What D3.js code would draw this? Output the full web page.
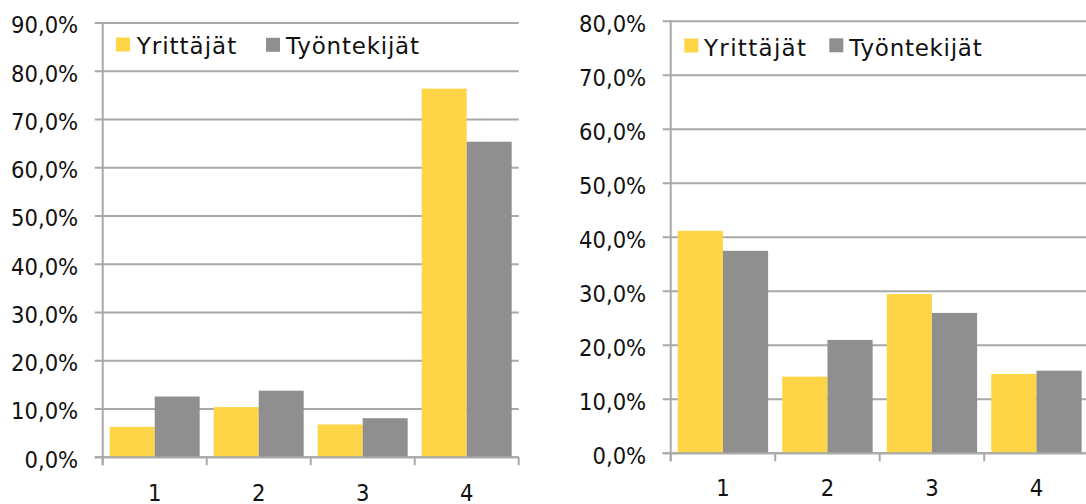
<!DOCTYPE html>
<html>
<head>
<meta charset="utf-8">
<script src="https://cdn.jsdelivr.net/npm/d3@7"></script>
<style>
  html, body { margin: 0; padding: 0; background: #fff; overflow: hidden; }
  svg { display: block; }
  text { fill: #111; }
</style>
</head>
<body>
<div id="chart"></div>
<script>
// Two side-by-side grouped bar charts
const categories = ['1', '2', '3', '4'];
const seriesNames = ['Yrittäjät', 'Työntekijät'];

const leftYrittajat = [6.3, 10.4, 6.8, 76.4];
const leftTyontekijat = [12.6, 13.8, 8.1, 65.4];
const leftTicks = [0, 10, 20, 30, 40, 50, 60, 70, 80, 90];

const rightYrittajat = [41.2, 14.2, 29.5, 14.7];
const rightTyontekijat = [37.5, 21.0, 26.0, 15.3];
const rightTicks = [0, 10, 20, 30, 40, 50, 60, 70, 80];

const COLORS = ['#FDD547', '#8F8F8F'];
const GRID = '#A8A8A8';
const TICK_FONT = '"DejaVu Sans Condensed", "DejaVu Sans", sans-serif';
const LEGEND_FONT = '"DejaVu Sans", sans-serif';

const W = 1086, H = 504;
const svg = d3.select('#chart').append('svg').attr('width', W).attr('height', H);

function drawChart(cfg) {
  const g = svg.append('g');
  const x = d3.scaleBand()
    .domain(categories)
    .range([cfg.x0, cfg.x1])
    .paddingInner(0.135)
    .paddingOuter(0.0675);
  const xs = d3.scaleBand().domain(seriesNames).range([0, x.bandwidth()]);
  const y = d3.scaleLinear().domain([0, cfg.max]).range([cfg.yBottom, cfg.yTop]);
  const step = x.step();

  // gridlines with left tick marks
  g.selectAll('.grid')
    .data(cfg.ticks)
    .join('line')
    .attr('x1', cfg.x0 - 8).attr('x2', cfg.x1)
    .attr('y1', d => y(d)).attr('y2', d => y(d))
    .attr('stroke', GRID).attr('stroke-width', 2);

  // tick labels
  g.selectAll('.ylab')
    .data(cfg.ticks)
    .join('text')
    .attr('x', cfg.x0 - 24.5)
    .attr('y', d => y(d) + 10.3)
    .attr('text-anchor', 'end')
    .style('font-family', TICK_FONT)
    .style('font-size', '23.5px')
    .text(d => d3.format('.1f')(d).replace('.', ',') + '%');

  // bars
  const rows = categories.map((c, i) => ({ cat: c, values: [cfg.a[i], cfg.b[i]] }));
  g.selectAll('.grp')
    .data(rows)
    .join('g')
    .attr('transform', d => `translate(${x(d.cat)},0)`)
    .selectAll('rect')
    .data(d => d.values.map((v, j) => ({ name: seriesNames[j], v, j })))
    .join('rect')
    .attr('x', d => xs(d.name))
    .attr('width', xs.bandwidth())
    .attr('y', d => y(d.v))
    .attr('height', d => y(0) - y(d.v))
    .attr('fill', d => COLORS[d.j]);

  // axis lines
  g.append('line')
    .attr('x1', cfg.x0).attr('x2', cfg.x0)
    .attr('y1', y(cfg.max) - 1).attr('y2', y(0) + 8)
    .attr('stroke', GRID).attr('stroke-width', 2);
  g.append('line')
    .attr('x1', cfg.x0 - 8).attr('x2', cfg.x1)
    .attr('y1', y(0)).attr('y2', y(0))
    .attr('stroke', GRID).attr('stroke-width', 2);
  g.selectAll('.xtick')
    .data(d3.range(categories.length + 1))
    .join('line')
    .attr('x1', i => cfg.x0 + i * step).attr('x2', i => cfg.x0 + i * step)
    .attr('y1', y(0)).attr('y2', y(0) + 8)
    .attr('stroke', GRID).attr('stroke-width', 2);

  // category labels
  g.selectAll('.xlab')
    .data(categories)
    .join('text')
    .attr('x', d => x(d) + x.bandwidth() / 2)
    .attr('y', cfg.xLabelY)
    .attr('text-anchor', 'middle')
    .style('font-family', TICK_FONT)
    .style('font-size', '23.5px')
    .text(d => d);

  // legend
  cfg.legend.forEach((L, j) => {
    g.append('rect')
      .attr('x', L.sx).attr('y', L.sy)
      .attr('width', 14).attr('height', 14)
      .attr('fill', COLORS[j]);
    g.append('text')
      .attr('x', L.tx).attr('y', L.ty)
      .attr('textLength', L.tw)
      .attr('lengthAdjust', 'spacing')
      .style('font-family', LEGEND_FONT)
      .style('font-size', '23px')
      .text(seriesNames[j]);
  });
}

drawChart({
  x0: 102.7, x1: 518.7, yBottom: 457.3, yTop: 23, max: 90,
  ticks: leftTicks, a: leftYrittajat, b: leftTyontekijat, xLabelY: 501,
  legend: [
    { sx: 116, sy: 37.5, tx: 136.7, ty: 53.5, tw: 99.5 },
    { sx: 266, sy: 37.8, tx: 286, ty: 53.5, tw: 133 }
  ]
});

drawChart({
  x0: 670.7, x1: 1088.7, yBottom: 453.3, yTop: 21.3, max: 80,
  ticks: rightTicks, a: rightYrittajat, b: rightTyontekijat, xLabelY: 496,
  legend: [
    { sx: 684.3, sy: 38.5, tx: 704, ty: 56, tw: 102 },
    { sx: 829.3, sy: 38.3, tx: 849.3, ty: 56, tw: 132.4 }
  ]
});
</script>
</body>
</html>
